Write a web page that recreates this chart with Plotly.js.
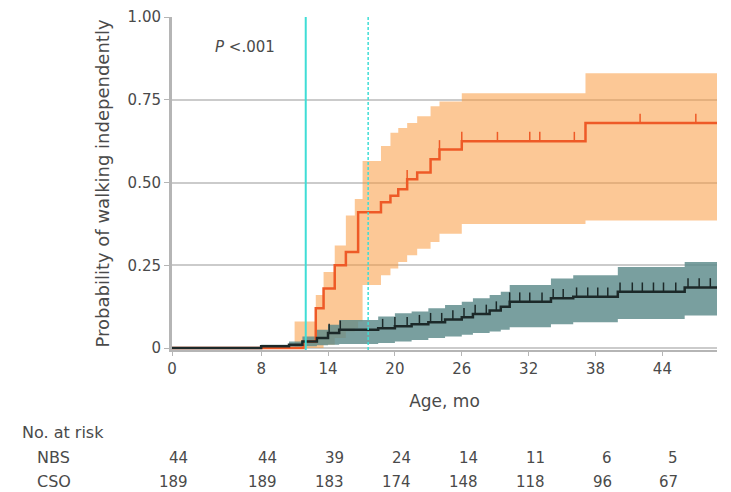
<!DOCTYPE html>
<html>
<head>
<meta charset="utf-8">
<script src="https://cdn.plot.ly/plotly-3.0.1.min.js"></script>
<style>
  html, body { margin: 0; padding: 0; background: #fff; }
  #chart { width: 731px; height: 492px; }
</style>
</head>
<body>
<div id="chart"></div>
<script>
// ---- Data ----
// NBS group: step times, estimate and 95% CI
var nbsTime  = [0, 11.0, 11.8, 12.9, 13.6, 14.6, 15.6, 16.4, 16.7, 17.1, 18.75, 19.6, 20.3, 21.1, 22.0, 23.2, 24.0, 26.0, 37.1, 48.9];
var nbsEst   = [0, 0,    0.02, 0.12, 0.18, 0.25, 0.29, 0.29, 0.41, 0.41, 0.44,  0.46, 0.48, 0.51, 0.53, 0.57, 0.60, 0.625, 0.68, 0.68];
var nbsUpper = [0, 0.08, 0.08, 0.16, 0.23, 0.31, 0.40, 0.45, 0.45, 0.565, 0.61, 0.65, 0.665, 0.68, 0.70, 0.73, 0.745, 0.77, 0.83, 0.83];
var nbsLower = [0, 0,    0,    0,    0.01, 0.03, 0.05, 0.06, 0.08, 0.19, 0.22,  0.24, 0.26, 0.28, 0.30, 0.32, 0.345, 0.375, 0.385, 0.385];
var nbsCensor = [21.1, 24.0, 26.0, 29.2, 32.1, 33.0, 36.1, 42.0, 47.0];

// CSO group
var csoTime  = [0, 8, 10.5, 11.7, 13, 14, 15, 18.5, 20, 21.5, 23, 24.5, 26, 27, 28.5, 29.5, 30.3, 34, 36, 40, 46, 48.9];
var csoEst   = [0, 0.005, 0.01, 0.02, 0.03, 0.045, 0.055, 0.06, 0.066, 0.072, 0.078, 0.086, 0.093, 0.103, 0.113, 0.125, 0.14, 0.15, 0.155, 0.17, 0.183, 0.183];
var csoUpper = [0, 0.01, 0.02, 0.035, 0.055, 0.07, 0.085, 0.095, 0.105, 0.11, 0.12, 0.13, 0.14, 0.15, 0.16, 0.17, 0.19, 0.21, 0.22, 0.245, 0.26, 0.26];
var csoLower = [0, 0, 0, 0.005, 0.008, 0.01, 0.012, 0.015, 0.02, 0.024, 0.03, 0.035, 0.04, 0.045, 0.05, 0.055, 0.063, 0.072, 0.078, 0.088, 0.098, 0.098];
var csoCensor = [14.1, 15.1, 18.9, 20.0, 21.1, 22.2, 23.2, 24.2, 25.2, 26.2, 27.2, 28.2, 29.1, 30.3, 31.2, 32.1, 33.2, 34.2, 35.1, 36.3, 37.3, 38.2, 39.1, 40.2, 41.3, 42.2, 43.2, 44.1, 45.2, 46.3, 47.3, 48.3];

// Reference ages (vertical lines): solid and dashed
var refAges = [12, 17.6];

// Number-at-risk table
var riskTimes = [0, 8, 14, 20, 26, 32, 38, 44];
var nbsRisk = [44, 44, 39, 24, 14, 11, 6, 5];
var csoRisk = [189, 189, 183, 174, 148, 118, 96, 67];

var yTickVals = [0, 0.25, 0.5, 0.75, 1];
var yTickText = ['0', '0.25', '0.50', '0.75', '1.00'];

// ---- Helpers ----
function stepAt(ts, vs, x) {
  var v = vs[0];
  for (var i = 0; i < ts.length; i++) { if (ts[i] <= x) v = vs[i]; }
  return v;
}

var FONT = 'DejaVu Sans, Open Sans, sans-serif';
var TXT = '#4a4a4a';
var ORANGE_LINE = '#EE5A27';
var ORANGE_BAND = 'rgba(250,155,64,0.55)';
var TEAL_BAND = 'rgba(92,138,138,0.82)';
var DARK_LINE = '#1c2929';
var CYAN = '#3FDDD6';

var traces = [
  {x: nbsTime, y: nbsUpper, mode: 'lines', line: {shape: 'hv', width: 0}, hoverinfo: 'skip', showlegend: false},
  {x: nbsTime, y: nbsLower, mode: 'lines', line: {shape: 'hv', width: 0}, fill: 'tonexty', fillcolor: ORANGE_BAND, hoverinfo: 'skip', showlegend: false},
  {x: csoTime, y: csoUpper, mode: 'lines', line: {shape: 'hv', width: 0}, hoverinfo: 'skip', showlegend: false},
  {x: csoTime, y: csoLower, mode: 'lines', line: {shape: 'hv', width: 0}, fill: 'tonexty', fillcolor: TEAL_BAND, hoverinfo: 'skip', showlegend: false},
  {x: nbsTime, y: nbsEst, mode: 'lines', name: 'NBS', line: {shape: 'hv', width: 2.5, color: ORANGE_LINE}, showlegend: false},
  {x: csoTime, y: csoEst, mode: 'lines', name: 'CSO', line: {shape: 'hv', width: 2.5, color: DARK_LINE}, showlegend: false},
  {x: nbsCensor, y: nbsCensor.map(function (t) { return stepAt(nbsTime, nbsEst, t); }),
   mode: 'markers', marker: {size: 1, color: 'rgba(0,0,0,0)'}, showlegend: false, hoverinfo: 'skip',
   error_y: {type: 'constant', symmetric: false, value: 0.028, valueminus: 0, width: 0, thickness: 1.5, color: ORANGE_LINE}},
  {x: csoCensor, y: csoCensor.map(function (t) { return stepAt(csoTime, csoEst, t); }),
   mode: 'markers', marker: {size: 1, color: 'rgba(0,0,0,0)'}, showlegend: false, hoverinfo: 'skip',
   error_y: {type: 'constant', symmetric: false, value: 0.028, valueminus: 0, width: 0, thickness: 1.5, color: DARK_LINE}}
];

var annotations = [
  {xref: 'paper', yref: 'paper', x: 0.134, y: 0.91, xanchor: 'center', yanchor: 'middle',
   text: '<i>P</i> <.001', showarrow: false, font: {family: FONT, size: 15, color: TXT}},
  {xref: 'paper', yref: 'paper', x: -0.278, y: -0.249, xanchor: 'left', yanchor: 'middle',
   text: 'No. at risk', showarrow: false, font: {family: FONT, size: 16, color: TXT}},
  {xref: 'paper', yref: 'paper', x: -0.251, y: -0.324, xanchor: 'left', yanchor: 'middle',
   text: 'NBS', showarrow: false, font: {family: FONT, size: 16, color: TXT}},
  {xref: 'paper', yref: 'paper', x: -0.251, y: -0.396, xanchor: 'left', yanchor: 'middle',
   text: 'CSO', showarrow: false, font: {family: FONT, size: 16, color: TXT}}
];
riskTimes.forEach(function (t, i) {
  annotations.push({xref: 'x', yref: 'paper', x: t, y: -0.324, xanchor: 'right', yanchor: 'middle', xshift: 18,
    text: String(nbsRisk[i]), showarrow: false, font: {family: FONT, size: 15, color: TXT}});
  annotations.push({xref: 'x', yref: 'paper', x: t, y: -0.396, xanchor: 'right', yanchor: 'middle', xshift: 18,
    text: String(csoRisk[i]), showarrow: false, font: {family: FONT, size: 15, color: TXT}});
});

var shapes = refAges.map(function (a, i) {
  return {type: 'line', xref: 'x', yref: 'paper', x0: a, x1: a, y0: 0, y1: 1,
    line: {color: CYAN, width: i === 0 ? 2 : 1.5, dash: i === 0 ? 'solid' : '3px,2px'}, layer: 'above'};
});

var layout = {
  width: 731, height: 492,
  margin: {l: 172, r: 14, t: 17, b: 142},
  paper_bgcolor: '#fff', plot_bgcolor: '#fff',
  font: {family: FONT, color: TXT, size: 15},
  showlegend: false,
  xaxis: {
    range: [0, 48.9], tickvals: riskTimes, ticktext: riskTimes.map(String),
    showgrid: false, zeroline: false, showline: true, linecolor: '#b5b5b5', linewidth: 2,
    ticks: 'outside', ticklen: 4, tickwidth: 1, tickcolor: '#b5b5b5',
    tickfont: {family: FONT, size: 15, color: TXT},
    title: {text: 'Age, mo', font: {family: FONT, size: 17, color: TXT}, standoff: 18}
  },
  yaxis: {
    range: [-0.006, 1.0], tickvals: yTickVals, ticktext: yTickText,
    showgrid: true, gridcolor: '#cbcbcb', gridwidth: 2, zeroline: false,
    showline: true, linecolor: '#b5b5b5', linewidth: 3,
    ticks: 'outside', ticklen: 5, tickwidth: 1, tickcolor: '#b5b5b5',
    tickfont: {family: FONT, size: 15, color: TXT},
    title: {text: 'Probability of walking independently', font: {family: FONT, size: 18, color: TXT}, standoff: 14}
  },
  shapes: shapes,
  annotations: annotations
};

Plotly.newPlot('chart', traces, layout, {displayModeBar: false, staticPlot: true});
</script>
</body>
</html>
